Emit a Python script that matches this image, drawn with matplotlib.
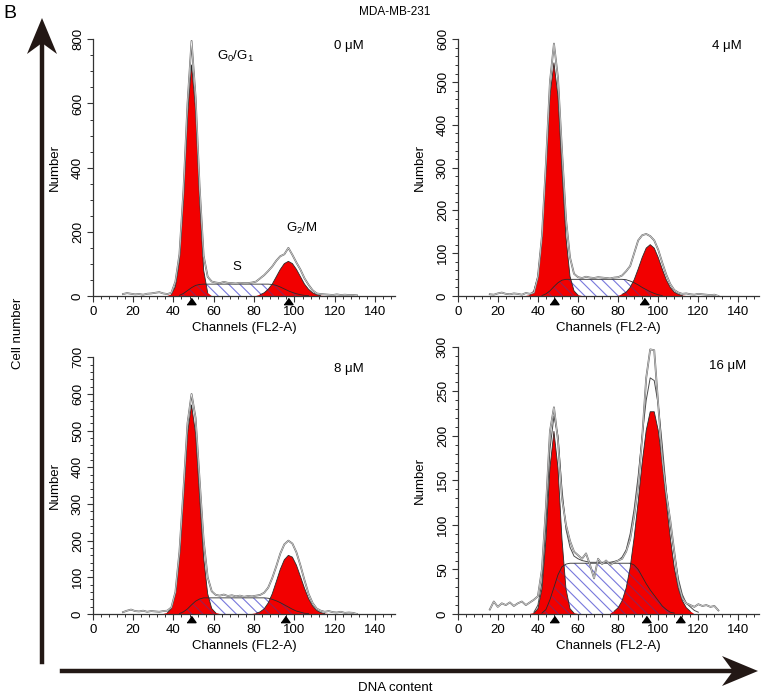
import numpy as np
import matplotlib
matplotlib.use("Agg")
import matplotlib.pyplot as plt
import matplotlib.transforms as mtransforms
from matplotlib.patches import Polygon
from matplotlib.lines import Line2D
from matplotlib.ticker import MultipleLocator

plt.rcParams['font.family'] = ['Liberation Sans', 'DejaVu Sans']
plt.rcParams['mathtext.fontset'] = 'custom'
plt.rcParams['mathtext.rm'] = 'Liberation Sans'
plt.rcParams['mathtext.default'] = 'rm'
plt.rcParams['hatch.linewidth'] = 0.8

# ---- data (channel step 2) ----
# 0 uM, odd channels from 15
raw_0 = [6, 9, 7, 5, 6, 4, 7, 8, 10, 12,
         8, 6, 10, 45, 130, 330, 600, 795, 620, 340,
         125, 60, 45, 42, 40, 44, 41, 40, 39, 41,
         40, 40, 42, 45, 55, 65, 78, 92, 110, 124,
         130, 150, 128, 104, 82, 55, 35, 18, 8, 6,
         5, 4, 3, 5, 3, 4, 3, 3, 2]
g1_0 = [5, 30, 110, 300, 560, 720, 580, 300, 80, 10]                 # from ch 39
s_0 = [2, 8, 17, 26, 33, 36, 37, 37, 37, 37, 37, 37, 37, 37, 37, 37, 37,
       37, 37, 37, 37, 37, 37, 36, 33, 28, 22, 16, 11, 7, 4, 2, 1]    # from ch 43
g2_0 = [4, 10, 21, 37, 60, 83, 101, 108, 101, 83, 60, 37, 21, 10, 4, 1]  # from ch 83
peaks_0 = [48.5, 97]

# 4 uM, even channels from 16
raw_4 = [4, 3, 6, 8, 5, 4, 6, 5, 3, 7,
         5, 8, 45, 140, 310, 500, 590, 510, 340, 180,
         90, 52, 44, 42, 45, 43, 42, 44, 43, 42,
         41, 43, 44, 48, 58, 70, 100, 130, 142, 145,
         140, 130, 108, 78, 50, 28, 14, 8, 5, 6,
         4, 3, 5, 4, 3, 2, 3, 0]
g1_4 = [2, 12, 46, 136, 294, 467, 545, 467, 294, 136, 46, 12, 2]     # from ch 36
s_4 = [1, 5, 12, 22, 31, 37, 39, 39, 39, 39, 39, 39, 39, 39, 39, 39, 39,
       39, 39, 39, 39, 38, 35, 31, 26, 20, 15, 10, 6, 3, 1]           # from ch 42
g2_4 = [4, 9, 20, 38, 63, 90, 112, 120, 112, 90, 63, 38, 20, 9, 4, 1]  # from ch 82
peaks_4 = [48, 93]

# 8 uM, odd channels from 15
raw_8 = [5, 9, 12, 8, 7, 9, 6, 8, 7, 6,
         8, 9, 18, 60, 170, 340, 520, 600, 535, 365,
         200, 100, 62, 52, 50, 53, 49, 51, 48, 50,
         47, 49, 48, 50, 52, 58, 72, 98, 130, 165,
         190, 200, 192, 168, 132, 92, 55, 30, 15, 9,
         6, 8, 5, 4, 6, 3, 4, 3, 0]
g1_8 = [3, 15, 55, 153, 318, 492, 570, 492, 318, 153, 55, 15, 3]     # from ch 37
s_8 = [1, 6, 14, 25, 35, 41, 44, 44, 44, 44, 44, 44, 44, 44, 44, 44, 44,
       44, 44, 44, 44, 44, 43, 40, 36, 31, 25, 19, 13, 8, 5, 2, 1]    # from ch 43
g2_8 = [2, 6, 14, 30, 55, 88, 122, 148, 160, 155, 133, 102, 70, 42, 22,
        10, 4, 1]                                                     # from ch 81
peaks_8 = [48.7, 95.4]

# 16 uM, even channels from 16
raw_16 = [5, 14, 8, 12, 10, 13, 9, 12, 14, 10,
          13, 16, 20, 50, 120, 205, 232, 195, 130, 100,
          82, 70, 66, 62, 68, 55, 40, 62, 56, 60,
          55, 58, 60, 62, 70, 84, 110, 145, 198, 265,
          297, 296, 235, 175, 135, 105, 70, 35, 18, 12,
          10, 8, 11, 9, 10, 8, 9, 4]
fit_16 = [2, 10, 35, 100, 185, 222, 200, 140, 95, 75,
          65, 62, 60, 59, 58, 58, 58, 58, 58, 58,
          59, 60, 64, 72, 90, 118, 155, 200, 240, 265,
          262, 235, 190, 140, 100, 68, 40, 22, 12, 8,
          4, 2]                                                       # from ch 38
g1_16 = [1, 6, 28, 84, 164, 205, 164, 84, 28, 6, 1]                  # from ch 38
s_16 = [1, 5, 16, 30, 44, 53, 56, 57, 57, 57, 57, 57, 57, 57, 57, 57, 57,
        57, 57, 57, 57, 57, 57, 55, 50, 42, 34, 27, 21, 15, 9, 5, 2, 1]  # from ch 42
g2_16 = [3, 7, 15, 29, 52, 86, 126, 170, 206, 227, 227, 206, 170, 126, 86,
         52, 29, 15, 7, 3]                                            # from ch 78
peaks_16 = [48, 94, 111]

panels = [
    dict(label="0 \u03bcM", first=15, raw=raw_0, g1=(39, g1_0), s=(43, s_0), g2=(83, g2_0),
         peaks=peaks_0, ymax=800, major=200, minor=50, box=(92.7, 39.3, 395.3, 296)),
    dict(label="4 \u03bcM", first=16, raw=raw_4, g1=(36, g1_4), s=(42, s_4), g2=(82, g2_4),
         peaks=peaks_4, ymax=600, major=100, minor=20, box=(457.7, 39.3, 758.5, 296)),
    dict(label="8 \u03bcM", first=15, raw=raw_8, g1=(37, g1_8), s=(43, s_8), g2=(81, g2_8),
         peaks=peaks_8, ymax=700, major=100, minor=20, box=(92.7, 357.3, 395.3, 614)),
    dict(label="16 \u03bcM", first=16, raw=raw_16, g1=(38, g1_16), s=(42, s_16), g2=(78, g2_16),
         peaks=peaks_16, ymax=300, major=50, minor=10, box=(457.7, 346.7, 758.5, 614),
         fit=(38, fit_16)),
]

W, H = 765, 699
fig = plt.figure(figsize=(W / 100, H / 100), dpi=100)


def fx(x):
    return x / W


def fy(y):
    return 1 - y / H


def on_grid(grid, start, vals):
    out = np.zeros(len(grid))
    i = int((start - grid[0]) // 2)
    out[i:i + len(vals)] = vals
    return out


def chans(start, vals):
    return np.arange(start, start + 2 * len(vals), 2)


RED = '#f20000'
HATCH = '\\\\\\'
tri = [(-1.0, -0.7), (1.0, -0.7), (0.0, 0.7)]

for p in panels:
    l, t, r, b = p['box']
    ax = fig.add_axes([fx(l), fy(b), (r - l) / W, (b - t) / H])
    grid = chans(p['first'], p['raw'])
    g1 = on_grid(grid, *p['g1'])
    s = on_grid(grid, *p['s'])
    g2 = on_grid(grid, *p['g2'])

    # S phase hatched, G0/G1 and G2/M red, overlap shown as dark hatch on red
    ax.fill_between(grid, 0, s, facecolor='none', edgecolor='#7878dc', hatch=HATCH, lw=0, zorder=1)
    ax.fill_between(grid, 0, g1, facecolor=RED, lw=0, zorder=2)
    ax.fill_between(grid, 0, g2, facecolor=RED, lw=0, zorder=2)
    ax.fill_between(grid, 0, np.minimum(s, g1), facecolor='none', edgecolor='#9b1f4f',
                    hatch=HATCH, lw=0, zorder=3)
    ax.fill_between(grid, 0, np.minimum(s, g2), facecolor='none', edgecolor='#9b1f4f',
                    hatch=HATCH, lw=0, zorder=3)
    for start, vals in (p['g1'], p['s'], p['g2']):
        ax.plot(chans(start, vals), vals, color='#2a2a2a', lw=0.6, zorder=4)

    if 'fit' in p:
        fs, fv = p['fit']
        ax.plot(chans(fs, fv), fv, color='#4a4a4a', lw=0.7, zorder=5)
    ax.plot(grid, p['raw'], color='#6e6e6e', lw=1.3, zorder=5)
    ax.plot(grid, p['raw'], color='white', lw=0.35, zorder=5)

    off = ax.transData + mtransforms.ScaledTranslation(0, -3.6 / 72, fig.dpi_scale_trans)
    ax.plot(p['peaks'], [0] * len(p['peaks']), ls='none', marker=tri, ms=6.5,
            color='black', transform=off, clip_on=False, zorder=6)

    ax.set_xlim(0, 150)
    ax.set_ylim(0, p['ymax'])
    ax.set_xticks(range(0, 141, 20))
    ax.xaxis.set_minor_locator(MultipleLocator(4))
    ax.yaxis.set_major_locator(MultipleLocator(p['major']))
    ax.yaxis.set_minor_locator(MultipleLocator(p['minor']))
    for side in ('top', 'right'):
        ax.spines[side].set_visible(False)
    for side in ('left', 'bottom'):
        ax.spines[side].set_linewidth(0.9)
        ax.spines[side].set_color('#333333')
    ax.tick_params(which='major', length=4.3, width=0.8, color='#333333', labelsize=9.5)
    ax.tick_params(which='minor', length=2.4, width=0.7, color='#333333')
    ax.tick_params(axis='x', pad=3)
    ax.tick_params(axis='y', labelrotation=90, pad=2)
    for lab in ax.get_yticklabels():
        lab.set_va('center')
    ax.patch.set_alpha(0)

    cx = (l + r) / 2
    cy = (t + b) / 2
    fig.text(fx(cx), fy(b + 32), "Channels (FL2-A)", ha='center', va='center', fontsize=9.5)
    fig.text(fx(l - 37.5), fy(cy), "Number", rotation=90, ha='center', va='center', fontsize=9.5)

fig.text(fx(349), fy(46), panels[0]['label'], ha='center', va='center', fontsize=9.5)
fig.text(fx(727), fy(46), panels[1]['label'], ha='center', va='center', fontsize=9.5)
fig.text(fx(349), fy(369), panels[2]['label'], ha='center', va='center', fontsize=9.5)
fig.text(fx(728), fy(366), panels[3]['label'], ha='center', va='center', fontsize=9.5)

fig.text(fx(235), fy(56), r"G$_0$/G$_1$", ha='center', va='center', fontsize=9.5)
fig.text(fx(302), fy(228), r"G$_2$/M", ha='center', va='center', fontsize=9.5)
fig.text(fx(237), fy(267), "S", ha='center', va='center', fontsize=9.5)

fig.text(fx(3), fy(13), "B", ha='left', va='center', fontsize=14)
fig.text(fx(395), fy(12), "MDA-MB-231", ha='center', va='center', fontsize=8.5)
fig.text(fx(18), fy(333), "Cell number", rotation=90, ha='center', va='center', fontsize=9.5)
fig.text(fx(395), fy(688), "DNA content", ha='center', va='center', fontsize=9.5)

# big axis arrows
ARROW = '#231815'
fig.add_artist(Line2D([fx(42), fx(42)], [fy(662), fy(45)], color=ARROW, lw=3.2,
                      transform=fig.transFigure))
fig.add_artist(Polygon([(fx(42), fy(18)), (fx(57), fy(54)), (fx(42), fy(43)), (fx(27), fy(54))],
                       closed=True, facecolor=ARROW, edgecolor='none', transform=fig.transFigure))
fig.add_artist(Line2D([fx(62), fx(735)], [fy(671), fy(671)], color=ARROW, lw=3.2,
                      transform=fig.transFigure))
fig.add_artist(Polygon([(fx(758), fy(671)), (fx(722), fy(656)), (fx(733), fy(671)), (fx(722), fy(686))],
                       closed=True, facecolor=ARROW, edgecolor='none', transform=fig.transFigure))

fig.savefig("out.png", dpi=100)
